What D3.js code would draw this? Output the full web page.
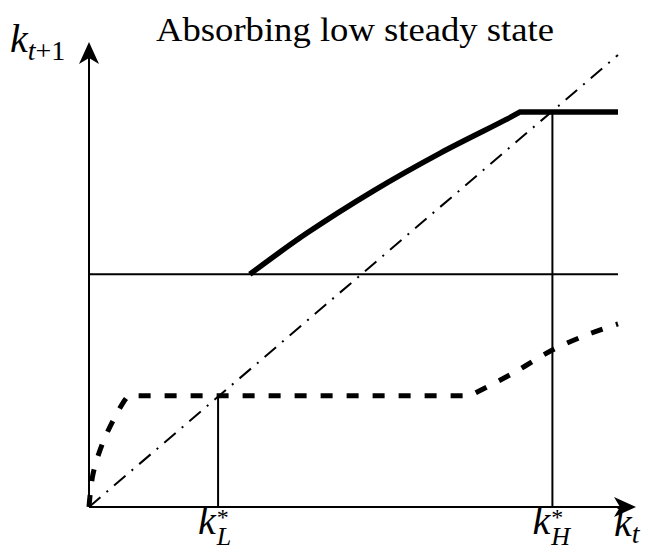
<!DOCTYPE html>
<html lang="en">
<head>
  <meta charset="UTF-8">
  <title>Absorbing low steady state</title>
  <style>
    body { margin: 0; background: #fff; }
    svg { display: block; }
    text { font-family: "Liberation Serif", "DejaVu Serif", serif; fill: #000; }
    .math { font-style: italic; }
  </style>
  <script src="https://d3js.org/d3.v7.min.js"></script>
</head>
<body>
  <div id="chart"></div>
  <script>
    // values (x = k_t, y = k_{t+1}, both scaled 0..1)
    const kL = 0.244;
    const kH = 0.876;
    const midLevel = 0.515;

    // high branch (solid): concave rise, then flat
    const highCurve = [[0.304, 0.515], [0.412, 0.606], [0.537, 0.699], [0.664, 0.783], [0.790, 0.858], [0.815, 0.874]];
    const highFlat = [[0.815, 0.874], [1.0, 0.874]];

    // low branch (dashed): steep start, flat, then rising again
    const lowStart = [[0.0, 0.0], [0.0076, 0.073], [0.025, 0.139], [0.045, 0.19], [0.064, 0.23], [0.074, 0.246]];
    const lowFlat = [[0.074, 0.246], [0.72, 0.246]];
    const lowEnd = [[0.72, 0.246], [0.80, 0.295], [0.877, 0.348], [0.95, 0.385], [1.0, 0.405]];

    const diagonal = [[0, 0], [1, 1]];

    const width = 653;
    const height = 553;

    const x = d3.scaleLinear().domain([0, 1]).range([89, 618]);
    const y = d3.scaleLinear().domain([0, 1]).range([507, 55]);

    const svg = d3.select('#chart')
      .append('svg')
      .attr('width', width)
      .attr('height', height);

    const smooth = d3.line().x(d => x(d[0])).y(d => y(d[1])).curve(d3.curveCatmullRom);
    const straight = d3.line().x(d => x(d[0])).y(d => y(d[1]));

    // join several pieces into one path so corners stay sharp
    function joined(pieces) {
      return pieces.map((p, i) => {
        const s = p.smooth ? smooth(p.pts) : straight(p.pts);
        return i === 0 ? s : 'L' + s.slice(1);
      }).join('');
    }

    // axes with arrow heads
    const arrow = 'M0,0 L-22,-10 L-16,0 L-22,10 Z';
    svg.append('line')
      .attr('x1', x(0)).attr('y1', y(0))
      .attr('x2', x(0)).attr('y2', 50)
      .attr('stroke', '#000').attr('stroke-width', 2);
    svg.append('path')
      .attr('d', arrow)
      .attr('transform', `translate(${x(0)},42) rotate(-90)`);
    svg.append('line')
      .attr('x1', x(0)).attr('y1', y(0))
      .attr('x2', 628).attr('y2', y(0))
      .attr('stroke', '#000').attr('stroke-width', 2);
    svg.append('path')
      .attr('d', arrow)
      .attr('transform', `translate(636,${y(0)})`);

    // 45 degree line
    svg.append('path')
      .attr('d', straight(diagonal))
      .attr('fill', 'none')
      .attr('stroke', '#000')
      .attr('stroke-width', 2)
      .attr('stroke-dasharray', '15,8,2,8');

    // horizontal threshold line
    svg.append('line')
      .attr('x1', x(0)).attr('x2', x(1))
      .attr('y1', y(midLevel)).attr('y2', y(midLevel))
      .attr('stroke', '#000').attr('stroke-width', 2);

    // steady state drop lines
    svg.append('line')
      .attr('x1', x(kL)).attr('x2', x(kL))
      .attr('y1', y(0)).attr('y2', y(lowFlat[0][1]))
      .attr('stroke', '#000').attr('stroke-width', 2);
    svg.append('line')
      .attr('x1', x(kH)).attr('x2', x(kH))
      .attr('y1', y(0)).attr('y2', y(highFlat[0][1]))
      .attr('stroke', '#000').attr('stroke-width', 2);

    // high branch
    svg.append('path')
      .attr('d', joined([{ pts: highCurve, smooth: true }, { pts: highFlat }]))
      .attr('fill', 'none')
      .attr('stroke', '#000')
      .attr('stroke-width', 5.5);

    // low branch
    svg.append('path')
      .attr('d', joined([{ pts: lowStart, smooth: true }, { pts: lowFlat }, { pts: lowEnd, smooth: true }]))
      .attr('fill', 'none')
      .attr('stroke', '#000')
      .attr('stroke-width', 5)
      .attr('stroke-dasharray', '12,14');

    // title
    svg.append('text')
      .attr('x', 355).attr('y', 41)
      .attr('text-anchor', 'middle')
      .attr('textLength', 398)
      .attr('lengthAdjust', 'spacingAndGlyphs')
      .style('font-size', '33px')
      .text('Absorbing low steady state');

    // axis labels
    const yl = svg.append('text').attr('x', 10).attr('y', 52).style('font-size', '40px');
    yl.append('tspan').attr('class', 'math').text('k');
    const ys = yl.append('tspan').attr('dy', 8).style('font-size', '28px');
    ys.append('tspan').attr('class', 'math').text('t');
    ys.append('tspan').text('+1');

    const xl = svg.append('text').attr('x', 614).attr('y', 536).style('font-size', '40px');
    xl.append('tspan').attr('class', 'math').text('k');
    xl.append('tspan').attr('class', 'math').attr('dy', 7).style('font-size', '28px').text('t');

    // k* labels under the axis, one text each so parts sit together
    function starLabel(xv, sub) {
      const t = svg.append('text').attr('x', x(xv) - 20).attr('y', 534)
        .style('font-size', '40px');
      t.append('tspan').attr('class', 'math').text('k');
      t.append('tspan').attr('dy', -9).attr('dx', 1).style('font-size', '24px').text('*');
      t.append('tspan').attr('class', 'math').attr('dx', -12).attr('dy', 20)
        .style('font-size', '26px').text(sub);
    }
    starLabel(kL, 'L');
    starLabel(kH, 'H');
  </script>
</body>
</html>
